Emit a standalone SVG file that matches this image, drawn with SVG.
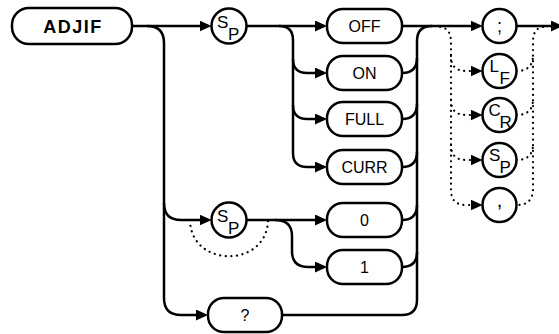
<svg xmlns="http://www.w3.org/2000/svg" width="559" height="334" viewBox="0 0 559 334">
<style>
.ln{fill:none;stroke:#000;stroke-width:2.5}
.dt{fill:none;stroke:#000;stroke-width:2.2;stroke-linecap:round;stroke-dasharray:0.1 5.5}
.box{fill:#fff;stroke:#000;stroke-width:2.5}
.t{font-family:"Liberation Sans",Arial,sans-serif;font-size:16px;fill:#000}
.c{text-anchor:middle}
.s{font-family:"Liberation Sans",Arial,sans-serif;font-size:17px;fill:#000}
</style>
<defs>
<marker id="ah" markerWidth="13" markerHeight="12" refX="9" refY="5.5" orient="auto" markerUnits="userSpaceOnUse"><path d="M0,0 L12,5.5 L0,11 Z" fill="#000"/></marker>
</defs>
<rect width="559" height="334" fill="#fff"/>
<g id="connectors">
<path class="ln" d="M132,26 H208.5" marker-end="url(#ah)"/>
<path class="ln" d="M147,26 Q164,26 164,43 V298 Q164,315 181,315 H205" marker-end="url(#ah)"/>
<path class="ln" d="M164,203 Q164,220 181,220 H208.5" marker-end="url(#ah)"/>
<path class="ln" d="M246.5,26 H324" marker-end="url(#ah)"/>
<path class="ln" d="M279,26 Q293,26 293,40 V153 Q293,167 307,167 H324" marker-end="url(#ah)"/>
<path class="ln" d="M293,59 Q293,73 307,73 H324" marker-end="url(#ah)"/>
<path class="ln" d="M293,105 Q293,119 307,119 H324" marker-end="url(#ah)"/>
<path class="ln" d="M246.5,220 H324" marker-end="url(#ah)"/>
<path class="ln" d="M275,220 Q292,220 292,236 V251 Q292,267 308,267 H324" marker-end="url(#ah)"/>
<path class="dt" d="M268,221 C266,268 192,268 190,221"/>
<path class="ln" d="M282,315 H402 Q417,315 417,300 V41 Q417,26 432,26"/>
<path class="ln" d="M402,73 Q417,73 417,58"/>
<path class="ln" d="M402,119 Q417,119 417,104"/>
<path class="ln" d="M402,167 Q417,167 417,152"/>
<path class="ln" d="M402,220 Q417,220 417,205"/>
<path class="ln" d="M402,267 Q417,267 417,252"/>
<path class="ln" d="M402,26 H479.5" marker-end="url(#ah)"/>
<path class="ln" d="M516.5,26 H560" marker-end="url(#ah)"/>
<path class="dt" d="M440,27 Q451,28 451,42 V190 Q451,205 466,205 H479.5" marker-end="url(#ah)"/>
<path class="dt" d="M451,56 Q451,71 466,71 H479.5" marker-end="url(#ah)"/>
<path class="dt" d="M451,100 Q451,115 466,115 H479.5" marker-end="url(#ah)"/>
<path class="dt" d="M451,145 Q451,160 466,160 H479.5" marker-end="url(#ah)"/>
<path class="dt" d="M543,27 Q533,28 533,42 V189 Q533,205 517,205"/>
<path class="dt" d="M516.5,71 Q533,71 533,55"/>
<path class="dt" d="M516.5,115 Q533,115 533,99"/>
<path class="dt" d="M516.5,160 Q533,160 533,144"/>
</g>
<g id="adjif"><rect class="box" x="12" y="8" width="120" height="36" rx="17"/><text class="t c" x="73" y="32.5" style="font-weight:bold;font-size:18px;letter-spacing:1.5px">ADJIF</text></g>
<g id="sp1"><circle class="box" cx="229" cy="26" r="17.5"/><text class="s" x="217" y="28">S</text><text class="s" x="228" y="40">P</text></g>
<g id="sp2"><circle class="box" cx="229" cy="220" r="17.5"/><text class="s" x="217" y="222">S</text><text class="s" x="228" y="234">P</text></g>
<g id="off"><rect class="box" x="327" y="9" width="75" height="34" rx="16"/><text class="t c" x="364.5" y="31.7">OFF</text></g>
<g id="on"><rect class="box" x="327" y="56" width="75" height="34" rx="16"/><text class="t c" x="364.5" y="78.7">ON</text></g>
<g id="full"><rect class="box" x="327" y="102" width="75" height="34" rx="16"/><text class="t c" x="364.5" y="124.7">FULL</text></g>
<g id="curr"><rect class="box" x="327" y="150" width="75" height="34" rx="16"/><text class="t c" x="364.5" y="172.7">CURR</text></g>
<g id="zero"><rect class="box" x="327" y="203" width="75" height="34" rx="16"/><text class="t c" x="364.5" y="225.7">0</text></g>
<g id="one"><rect class="box" x="327" y="250" width="75" height="34" rx="16"/><text class="t c" x="364.5" y="272.7">1</text></g>
<g id="query"><rect class="box" x="208" y="298" width="74" height="34" rx="16"/><text class="t c" x="245" y="320.7">?</text></g>
<g id="semi"><circle class="box" cx="499.5" cy="26" r="17"/><text class="t c" x="499.5" y="32" style="font-size:18px">;</text></g>
<g id="lf"><circle class="box" cx="499.5" cy="71" r="17"/><text class="s" x="489.5" y="72">L</text><text class="s" x="499.5" y="84">F</text></g>
<g id="cr"><circle class="box" cx="499.5" cy="115" r="17"/><text class="s" x="488.5" y="116">C</text><text class="s" x="499.5" y="128">R</text></g>
<g id="sp3"><circle class="box" cx="499.5" cy="160" r="17"/><text class="s" x="489" y="161">S</text><text class="s" x="499.5" y="173">P</text></g>
<g id="comma"><circle class="box" cx="499.5" cy="205" r="17"/><text class="t c" x="499.5" y="207" style="font-size:20px">,</text></g>
</svg>
